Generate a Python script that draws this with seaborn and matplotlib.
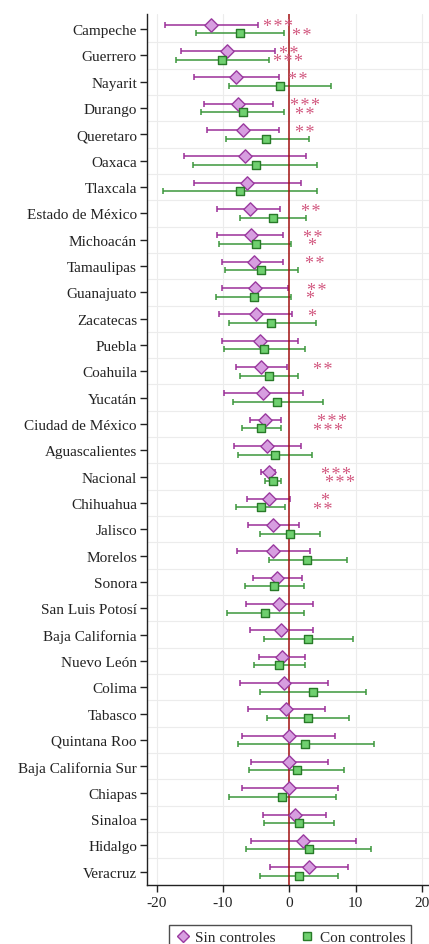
import matplotlib
matplotlib.use("Agg")
import matplotlib.pyplot as plt
import seaborn as sns
import pandas as pd
import numpy as np
from matplotlib.lines import Line2D

states = ["Campeche", "Guerrero", "Nayarit", "Durango", "Queretaro", "Oaxaca", "Tlaxcala",
          "Estado de México", "Michoacán", "Tamaulipas", "Guanajuato", "Zacatecas", "Puebla",
          "Coahuila", "Yucatán", "Ciudad de México", "Aguascalientes", "Nacional", "Chihuahua",
          "Jalisco", "Morelos", "Sonora", "San Luis Potosí", "Baja California", "Nuevo León",
          "Colima", "Tabasco", "Quintana Roo", "Baja California Sur", "Chiapas", "Sinaloa",
          "Hidalgo", "Veracruz"]

sin_coef = [-11.8, -9.4, -8.0, -7.7, -7.0, -6.7, -6.4, -6.0, -5.8, -5.4, -5.2, -5.1, -4.4,
            -4.2, -3.9, -3.7, -3.3, -3.1, -3.1, -2.4, -2.4, -1.8, -1.5, -1.2, -1.1, -0.8,
            -0.5, 0.0, 0.0, 0.0, 0.8, 2.1, 2.9]
sin_lo = [-18.7, -16.4, -14.4, -12.9, -12.4, -15.9, -14.4, -10.9, -10.9, -10.1, -10.2, -10.6,
          -10.2, -8.0, -9.8, -6.0, -8.4, -4.3, -6.4, -6.3, -7.9, -5.5, -6.5, -6.0, -4.6, -7.5,
          -6.2, -7.1, -5.8, -7.2, -3.9, -5.8, -2.9]
sin_hi = [-4.7, -2.2, -1.5, -2.4, -1.5, 2.5, 1.7, -1.4, -1.0, -0.9, -0.2, 0.4, 1.3, -0.3,
          2.0, -1.3, 1.8, -2.1, 0.1, 1.5, 3.1, 1.9, 3.6, 3.6, 2.4, 5.8, 5.4, 6.9, 5.8, 7.3,
          5.5, 10.1, 8.8]
sin_stars = ["***", "**", "**", "***", "**", "", "", "**", "**", "**", "**", "*", "",
             "**", "", "***", "", "***", "*", "", "", "", "", "", "", "", "", "", "", "",
             "", "", ""]

con_coef = [-7.4, -10.2, -1.4, -7.0, -3.5, -5.1, -7.5, -2.5, -5.1, -4.2, -5.4, -2.7, -3.8,
            -3.1, -1.8, -4.2, -2.2, -2.4, -4.3, 0.1, 2.7, -2.3, -3.7, 2.8, -1.5, 3.5, 2.8,
            2.4, 1.1, -1.1, 1.5, 2.9, 1.5]
con_lo = [-14.0, -17.1, -9.1, -13.3, -9.6, -14.5, -19.1, -7.5, -10.6, -9.7, -11.1, -9.1,
          -9.9, -7.5, -8.5, -7.2, -7.7, -3.6, -8.1, -4.5, -3.1, -6.7, -9.4, -3.8, -5.3,
          -4.4, -3.4, -7.8, -6.1, -9.1, -3.8, -6.5, -4.4]
con_hi = [-0.75, -3.0, 6.3, -0.75, 2.9, 4.2, 4.1, 2.5, 0.2, 1.3, 0.2, 4.0, 2.4, 1.3, 5.0,
          -1.2, 3.4, -1.2, -0.6, 4.6, 8.7, 2.2, 2.2, 9.6, 2.4, 11.6, 9.0, 12.8, 8.2, 7.0,
          6.8, 12.3, 7.4]
con_stars = ["**", "***", "", "**", "", "", "", "", "*", "", "*", "", "", "", "", "***",
             "", "***", "**", "", "", "", "", "", "", "", "", "", "", "", "", "", ""]

series_names = ["Sin controles", "Con controles"]

sns.set_style("white")
plt.rcParams['font.family'] = ['Liberation Serif', 'DejaVu Serif']

fig = plt.figure(figsize=(4.29, 9.45), dpi=100)
ax = fig.add_axes([0.342, 0.0624, 0.665, 0.9217])

n = len(states)
idx = np.arange(n)
off = 0.16

rows = []
for i in range(n):
    rows.append(dict(state=states[i], serie=series_names[0], coef=sin_coef[i], lo=sin_lo[i],
                     hi=sin_hi[i], stars=sin_stars[i], y=i - off))
    rows.append(dict(state=states[i], serie=series_names[1], coef=con_coef[i], lo=con_lo[i],
                     hi=con_hi[i], stars=con_stars[i], y=i + off))
df = pd.DataFrame(rows)

style = {
    "Sin controles": dict(marker="D", face="#d79ee0", edge="#9a3a9f", line="#9b2f98", size=46),
    "Con controles": dict(marker="s", face="#6fd06f", edge="#287a28", line="#3c973c", size=36),
}

# grid
for g in [-20, -10, 10, 20]:
    ax.axvline(g, color="#ececec", lw=0.8, zorder=0)
for b in np.arange(0.5, n - 0.5, 1):
    ax.axhline(b, color="#ececec", lw=0.8, zorder=0)

for name in series_names:
    d = df[df.serie == name]
    st = style[name]
    ax.errorbar(d.coef, d.y, xerr=[d.coef - d.lo, d.hi - d.coef], fmt="none",
                ecolor=st["line"], elinewidth=1.1, capsize=2.3, capthick=1.1, zorder=2)

ax.axvline(0, color="#a01010", lw=1.1, zorder=3)

for name in series_names:
    d = df[df.serie == name]
    st = style[name]
    sns.scatterplot(data=d, x="coef", y="y", marker=st["marker"], color=st["face"],
                    edgecolor=st["edge"], linewidth=1.0, s=st["size"], ax=ax, zorder=4,
                    legend=False)
    for _, r in d.iterrows():
        if r.stars:
            ax.text(r.coef + 7.8, r.y + 0.08, "\u200a".join(r.stars), color="#d2577f",
                    fontsize=13, ha="left", va="center",
                    family=["Liberation Serif", "DejaVu Serif"], zorder=5)

ax.set_xlim(-21.5, 21.5)
ax.set_ylim(32.51, -0.57)
ax.set_yticks(idx)
ax.set_yticklabels(states, fontsize=11, color="#222222")
ax.set_xticks([-20, -10, 0, 10, 20])
ax.set_xticklabels(["-20", "-10", "0", "10", "20"], fontsize=11, color="#222222")
ax.set_xlabel("")
ax.set_ylabel("")
ax.tick_params(axis="y", length=5, width=1, color="#222222", pad=2, left=True)
ax.tick_params(axis="x", length=5, width=1, color="#222222", pad=3, bottom=True)
for s in ["top", "right"]:
    ax.spines[s].set_visible(False)
for s in ["left", "bottom"]:
    ax.spines[s].set_color("#222222")
    ax.spines[s].set_linewidth(1.0)

handles = [Line2D([], [], linestyle="none", marker=style[nm]["marker"],
                  markerfacecolor=style[nm]["face"], markeredgecolor=style[nm]["edge"],
                  markersize=6 if nm == "Sin controles" else 5.5) for nm in series_names]
leg = fig.legend(handles, series_names, loc="upper center", ncol=2,
                 bbox_to_anchor=(290 / 429, 1 - 918 / 945), frameon=True, fontsize=11,
                 handletextpad=0.3, columnspacing=1.6, borderpad=0.4, fancybox=False,
                 handlelength=1.0)
leg.get_frame().set_edgecolor("#222222")
leg.get_frame().set_linewidth(1.0)

fig.savefig("out.png", dpi=100)
